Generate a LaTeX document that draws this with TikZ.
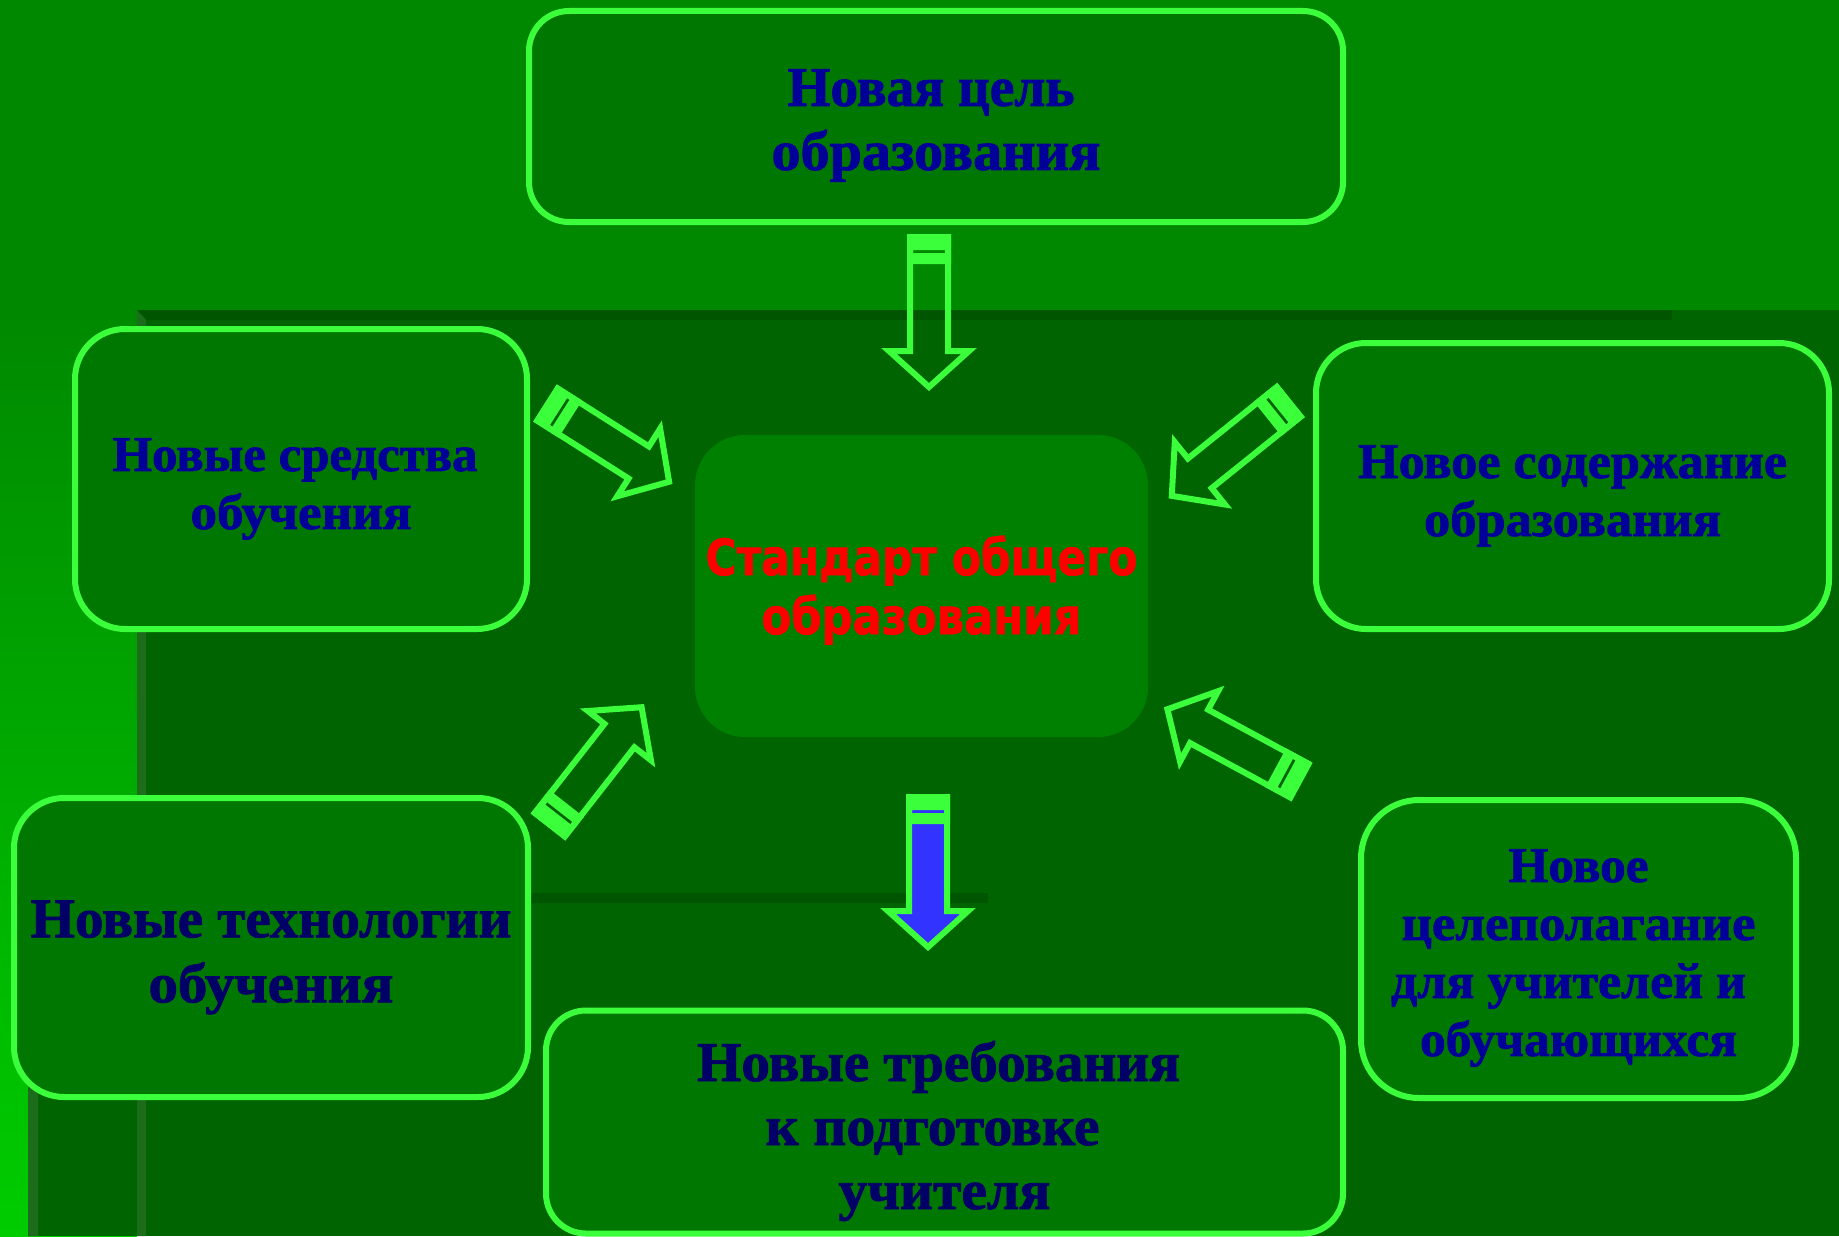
\documentclass[tikz,border=0pt]{standalone}
\usepackage{fontspec}
\usepackage{graphicx}
\setmainfont{Liberation Serif}[BoldFeatures={FakeBold=1.5}]
\newfontfamily\hubfont{DejaVu Sans}[BoldFeatures={FakeBold=1.2}]
\definecolor{topbg}{RGB}{0,136,0}
\definecolor{brightg}{RGB}{0,204,0}
\definecolor{panel}{RGB}{0,100,0}
\definecolor{pshadow}{RGB}{0,86,0}
\definecolor{phigh}{RGB}{28,108,28}
\definecolor{boxfill}{RGB}{0,119,0}
\definecolor{hubfill}{RGB}{0,128,0}
\definecolor{lgreen}{RGB}{60,255,60}
\definecolor{navyA}{RGB}{0,0,153}
\definecolor{navyB}{RGB}{0,0,102}
\definecolor{arrowblue}{RGB}{51,51,255}
\newcommand\fitw[2]{\resizebox{#1pt}{\height}{#2}}
\newcommand\padr[1]{\rule{#1pt}{0pt}}
\newcommand\blockarrow[6]{%
  \coordinate (#1) at (#2,#3);
  \begin{scope}[shift={(#1)}, rotate=#4]
    \draw[arrowline, fill=#6] (3,-19) -- ({#5-41},-19) -- ({#5-41},-40) -- ({#5-5},0)
      -- ({#5-41},40) -- ({#5-41},19) -- (3,19) -- cycle;
    \fill[lgreen, even odd rule] (0,-22) rectangle (30,22) (16,-16) rectangle (19,16);
  \end{scope}}
\tikzset{
  card/.style={draw=lgreen, line width=3pt, fill=boxfill, inner sep=0pt},
  cardtext/.style={inner sep=0pt, align=center, text=navyA,
    font=\bfseries\fontsize{25}{29}\selectfont},
  hub/.style={fill=hubfill, inner sep=0pt},
  hubtext/.style={inner sep=0pt, align=center, text=red,
    font=\hubfont\bfseries\fontsize{25}{29.5}\selectfont},
  arrowline/.style={draw=lgreen, line width=3pt, line join=miter, miter limit=10},
}
\begin{document}
\begin{tikzpicture}[x=0.5pt, y=-0.5pt]
\useasboundingbox (0,0) rectangle (1839,1236);
\clip (0,0) rectangle (1839,1236);
% background
\fill[topbg] (0,0) rectangle (1839,1236);
\shade[top color=topbg, bottom color=brightg] (0,300) rectangle (137,1236);
% panels
\fill[panel] (28,893) rectangle (988,1236);
\fill[panel] (137,310) rectangle (1839,1236);
\fill[pshadow] (28,893) -- (988,893) -- (988,903) -- (38,903) -- cycle;
\fill[pshadow] (137,310) -- (1672,310) -- (1672,320) -- (146,320) -- cycle;
\fill[phigh] (28,893) -- (38,903) -- (38,1236) -- (28,1236) -- cycle;
\fill[phigh] (137,310) -- (146,320) -- (146,1236) -- (137,1236) -- cycle;
% boxes
\node[card, rounded corners=20pt, minimum width=407pt, minimum height=105.5pt] (goal) at (936,116.5) {};
\node[card, rounded corners=25pt, minimum width=226pt, minimum height=150pt] (means) at (301,479) {};
\node[card, rounded corners=25pt, minimum width=256.5pt, minimum height=143pt] (content) at (1572.5,486) {};
\node[hub, rounded corners=25pt, minimum width=226.5pt, minimum height=151pt] (std) at (921.5,586) {};
\node[card, rounded corners=25pt, minimum width=257pt, minimum height=149.5pt] (tech) at (271,947.5) {};
\node[card, rounded corners=20pt, minimum width=398.5pt, minimum height=111.5pt] (req) at (944.5,1122) {};
\node[card, rounded corners=29pt, minimum width=217.5pt, minimum height=149pt] (aims) at (1578.5,949) {};
% texts
\node[cardtext, font=\bfseries\fontsize{28}{32}\selectfont] (goalT) at ([yshift=-4.5pt]goal.center)
  {\fitw{143.5}{Новая цель}\padr{5}\\\fitw{164.5}{образования}};
\node[cardtext] (meansT) at ([yshift=-5pt]means.center)
  {\fitw{182.5}{Новые средства}\padr{6}\\\fitw{110.5}{обучения}};
\node[cardtext] (contentT) at ([yshift=-5pt]content.center)
  {\fitw{214.5}{Новое содержание}\\\fitw{148.5}{образования}};
\node[hubtext] (stdT) at ([yshift=-2pt]std.center)
  {\fitw{216}{Стандарт общего}\\\fitw{160}{образования}};
\node[cardtext, text=navyB, font=\bfseries\fontsize{28}{32.5}\selectfont] (techT) at ([yshift=-5pt]tech.center)
  {\fitw{240.5}{Новые технологии}\\\fitw{122.5}{обучения}};
\node[cardtext, text=navyB, font=\bfseries\fontsize{28}{32}\selectfont] (reqT) at ([yshift=-4.5pt]req.center)
  {\fitw{241.5}{Новые требования}\padr{6}\\\fitw{167}{к подготовке}\padr{12}\\\fitw{106}{учителя}};
\node[cardtext] (aimsT) at ([yshift=-4.5pt]aims.center)
  {\fitw{70}{Новое}\\\fitw{177}{целеполагание}\\\fitw{177.5}{для учителей и}\padr{10}\\\fitw{158.5}{обучающихся}};
% arrows
\blockarrow{a1}{929}{234}{-90}{158}{none}
\blockarrow{a2}{545}{403}{-32.4}{152}{none}
\blockarrow{a3}{1291}{400}{-141.2}{158}{none}
\blockarrow{a4}{548}{827}{52}{157}{none}
\blockarrow{a5}{1302}{782}{151.6}{158}{none}
\blockarrow{a6}{928}{794}{-90}{158}{arrowblue}
\end{tikzpicture}
\end{document}
